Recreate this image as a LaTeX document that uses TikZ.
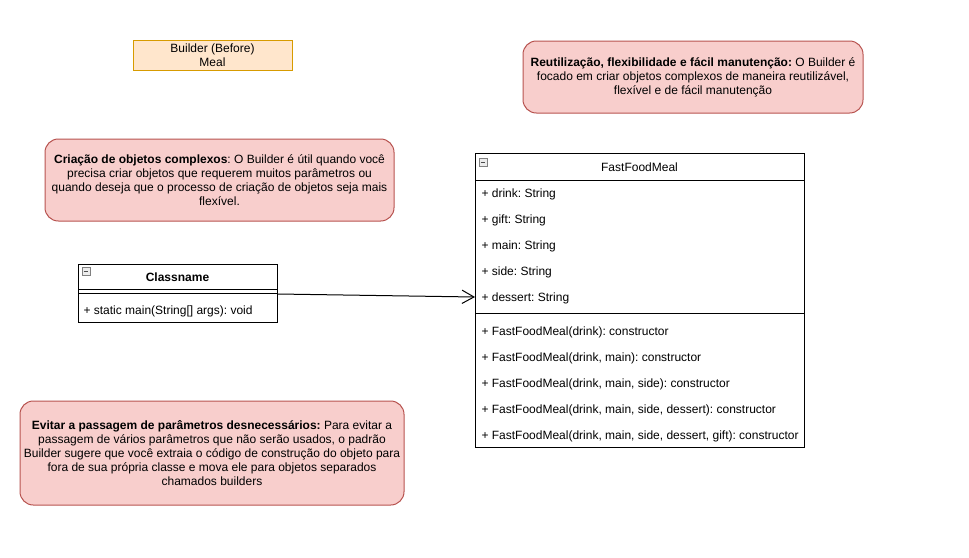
\documentclass[tikz,border=0pt]{standalone}
\usepackage{fontspec}
\setmainfont{Liberation Sans}
\usetikzlibrary{arrows.meta, positioning}
\definecolor{notefill}{HTML}{F8CECC}
\definecolor{notedraw}{HTML}{B85450}
\definecolor{titlefill}{HTML}{FFE6CC}
\definecolor{titledraw}{HTML}{D79B00}
\frenchspacing

\begin{document}
\begin{tikzpicture}[x=0.75pt, y=-0.75pt, line width=0.75pt,
    every node/.style={font=\fontsize{9}{10.5}\selectfont},
    title/.style={
        rectangle, draw=titledraw, fill=titlefill, minimum width=159*0.75pt,
        minimum height=30*0.75pt, align=center, inner sep=1pt
    },
    note/.style={
        rectangle, draw=notedraw, fill=notefill, rounded corners=10pt,
        align=center, inner sep=1pt
    },
    umlbox/.style={rectangle, draw, anchor=north west, inner sep=0pt},
    member/.style={anchor=west, inner sep=0pt},
    toggle/.style={
        rectangle, draw=gray, fill=gray!15, line width=0.5pt, minimum size=6pt, inner sep=0pt,
        path picture={\draw[black!70] ([xshift=1.2pt]path picture bounding box.west)
            -- ([xshift=-1.2pt]path picture bounding box.east);}
    },
    arrow/.style={-{Straight Barb[length=9pt, width=10pt]}, draw=black}
]
\useasboundingbox[fill=white] (0,0) rectangle (969,557);

% Title
\node[title] (heading) at (212.5,55) {Builder (Before)\\Meal};

% Notes
\node[note, minimum width=340*0.75pt, minimum height=72*0.75pt] (reuse) at (693,77)
    {\textbf{Reutilização, flexibilidade e fácil manutenção:} O Builder é\\
     focado em criar objetos complexos de maneira reutilizável,\\
     flexível e de fácil manutenção};
\node[note, minimum width=349*0.75pt, minimum height=82*0.75pt] (complex) at (219.5,180)
    {\textbf{Criação de objetos complexos}: O Builder é útil quando você\\
     precisa criar objetos que requerem muitos parâmetros ou\\
     quando deseja que o processo de criação de objetos seja mais\\
     flexível.};
\node[note, minimum width=384*0.75pt, minimum height=104*0.75pt] (avoid) at (212,453)
    {\textbf{Evitar a passagem de parâmetros desnecessários:} Para evitar a\\
     passagem de vários parâmetros que não serão usados, o padrão\\
     Builder sugere que você extraia o código de construção do objeto para\\
     fora de sua própria classe e mova ele para objetos separados\\
     chamados builders};

% Classname class
\node[umlbox, minimum width=199*0.75pt, minimum height=58*0.75pt] (client) at (78,264) {};
\node[font=\fontsize{9}{10.5}\selectfont\bfseries] (clientname) at (177.5,277) {Classname};
\node[toggle] (clienttoggle) at (86,271) {};
\draw (78,289) -- (277,289);
\draw (78,293) -- (277,293);
\node[member] (mainop) at (83,311) {+ static main(String[] args): void};

% FastFoodMeal class
\node[umlbox, minimum width=329*0.75pt, minimum height=294*0.75pt] (meal) at (475,153) {};
\node (mealname) at (639.5,167) {FastFoodMeal};
\node[toggle] (mealtoggle) at (483,162) {};
\draw (475,180) -- (804,180);
\draw (475,313) -- (804,313);
\foreach \attr [count=\i] in {drink, gift, main, side, dessert}
    \node[member] (attr\i) at (481,168+26*\i) {+ \attr: String};
\foreach \args [count=\i] in {{drink}, {drink, main}, {drink, main, side},
    {drink, main, side, dessert}, {drink, main, side, dessert, gift}}
    \node[member] (ctor\i) at (481,306+26*\i) {+ FastFoodMeal(\args): constructor};

% Association
\draw[arrow] (client.east |- 0,294) -- (meal.west |- 0,297);

\end{tikzpicture}
\end{document}
